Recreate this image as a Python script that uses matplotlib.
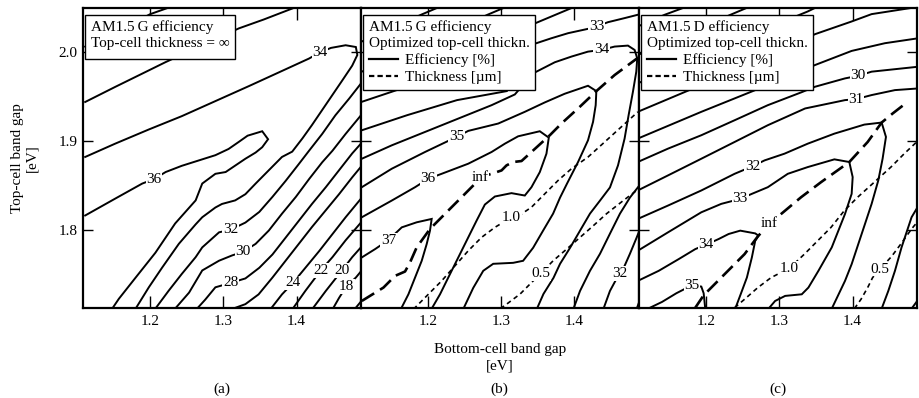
import matplotlib
matplotlib.use('Agg')
from matplotlib import pyplot as plt
from matplotlib.lines import Line2D

plt.rcParams['font.family'] = ['Liberation Serif', 'DejaVu Serif']
plt.rcParams['font.size'] = 11

X_RANGE = (1.108, 1.488)
Y_RANGE = (1.712, 2.050)
X_TICKS = [1.2, 1.3, 1.4]
Y_TICKS = [1.8, 1.9, 2.0]

# ---------------- (a) AM1.5G, infinite top cell: efficiency contours ----------------
a30_x = [1.111, 1.152, 1.200, 1.226]
a30_y = [2.0065, 2.0227, 2.0431, 2.0507]
a32u_x = [1.111, 1.152, 1.189, 1.221, 1.271, 1.321, 1.355, 1.399]
a32u_y = [1.944, 1.961, 1.976, 1.989, 2.008, 2.027, 2.037, 2.051]
a34_x = [1.111, 1.152, 1.198, 1.243, 1.289, 1.335, 1.380, 1.417, 1.432, 1.447, 1.467, 1.481, 1.483,
         1.476, 1.463, 1.449, 1.435, 1.421, 1.408, 1.394, 1.380, 1.362, 1.344, 1.330, 1.316, 1.298,
         1.289, 1.271, 1.262, 1.239, 1.216, 1.198, 1.180]
a34_y = [1.882, 1.897, 1.913, 1.928, 1.945, 1.962, 1.979, 1.993, 2.000, 2.005, 2.008, 2.006, 1.997,
         1.985, 1.969, 1.952, 1.935, 1.918, 1.903, 1.888, 1.882, 1.867, 1.852, 1.840, 1.833, 1.829,
         1.825, 1.814, 1.806, 1.784, 1.757, 1.735, 1.711]
a36_x = [1.111, 1.152, 1.189, 1.205, 1.221, 1.243, 1.266, 1.289, 1.307, 1.321, 1.333, 1.353, 1.361,
         1.353, 1.344, 1.330, 1.312, 1.303, 1.289, 1.271, 1.262, 1.234, 1.207, 1.180, 1.157, 1.148]
a36_y = [1.816, 1.835, 1.852, 1.857, 1.865, 1.872, 1.878, 1.884, 1.891, 1.899, 1.906, 1.911, 1.902,
         1.893, 1.887, 1.880, 1.870, 1.865, 1.863, 1.852, 1.833, 1.807, 1.774, 1.746, 1.722, 1.711]
a32_x = [1.207, 1.225, 1.243, 1.262, 1.271, 1.294, 1.310, 1.330, 1.349, 1.367, 1.385, 1.403, 1.417,
         1.435, 1.453, 1.472, 1.490]
a32_y = [1.711, 1.731, 1.750, 1.769, 1.780, 1.797, 1.800, 1.808, 1.820, 1.837, 1.855, 1.874, 1.889,
         1.908, 1.929, 1.948, 1.967]
a30l_x = [1.234, 1.253, 1.271, 1.294, 1.312, 1.327, 1.344, 1.362, 1.380, 1.399, 1.417, 1.435, 1.449, 1.467, 1.490]
a30l_y = [1.711, 1.729, 1.754, 1.765, 1.771, 1.775, 1.784, 1.799, 1.818, 1.837, 1.857, 1.876, 1.889, 1.908, 1.931]
a28_x = [1.264, 1.275, 1.289, 1.310, 1.330, 1.349, 1.367, 1.385, 1.403, 1.421, 1.440, 1.458, 1.476, 1.490]
a28_y = [1.711, 1.721, 1.735, 1.740, 1.745, 1.757, 1.772, 1.791, 1.810, 1.829, 1.848, 1.867, 1.886, 1.899]
a26_x = [1.310, 1.330, 1.348, 1.367, 1.385, 1.403, 1.421, 1.440, 1.458, 1.476, 1.490]
a26_y = [1.710, 1.716, 1.727, 1.746, 1.765, 1.784, 1.803, 1.822, 1.840, 1.859, 1.873]
a24_x = [1.364, 1.380, 1.395, 1.412, 1.431, 1.449, 1.467, 1.490]
a24_y = [1.710, 1.727, 1.740, 1.757, 1.776, 1.795, 1.814, 1.837]
a22_x = [1.394, 1.412, 1.433, 1.449, 1.467, 1.490]
a22_y = [1.710, 1.731, 1.754, 1.769, 1.788, 1.810]
a20_x = [1.421, 1.440, 1.462, 1.476, 1.490]
a20_y = [1.710, 1.731, 1.754, 1.769, 1.782]
a18_x = [1.449, 1.458, 1.468, 1.481, 1.490]
a18_y = [1.710, 1.723, 1.736, 1.746, 1.755]
a16_x = [1.479, 1.490]
a16_y = [1.710, 1.721]

a_lab_text = ['34', '36', '32', '30', '28', '24', '22', '20', '18']
a_lab_x = [1.432, 1.205, 1.310, 1.327, 1.310, 1.395, 1.433, 1.462, 1.468]
a_lab_y = [2.000, 1.857, 1.800, 1.775, 1.740, 1.740, 1.754, 1.754, 1.736]

# ---------------- (b) AM1.5G, optimized top-cell thickness ----------------
b30_x = [1.1095, 1.1905, 1.2141]
b30_y = [2.0122, 2.0424, 2.0507]
b31_x = [1.1095, 1.2814, 1.3051]
b31_y = [1.9782, 2.0424, 2.0507]
b32u_x = [1.1095, 1.1641, 1.2414, 1.3437, 1.3960]
b32u_y = [1.9442, 1.9593, 1.9857, 2.0318, 2.0499]
b33_x = [1.1095, 1.1714, 1.2396, 1.3078, 1.3437, 1.3687, 1.3915, 1.4187, 1.4301, 1.4460, 1.4687, 1.4869]
b33_y = [1.9121, 1.9291, 1.9461, 1.9563, 2.0091, 2.0159, 2.0216, 2.0265, 2.0291, 2.0340, 2.0386, 2.0424]
b34_x = [1.1095, 1.1504, 1.1959, 1.2414, 1.2869, 1.3187, 1.3437, 1.3733, 1.3960, 1.4187, 1.4369, 1.4551,
         1.4733, 1.4824, 1.4860, 1.4847, 1.4801, 1.4742, 1.4687, 1.4597, 1.4487, 1.4351, 1.4214, 1.4078,
         1.3942, 1.3805, 1.3715, 1.3578, 1.3487]
b34_y = [1.8800, 1.8951, 1.9102, 1.9253, 1.9404, 1.9525, 1.9763, 1.9888, 1.9952, 2.0008, 2.0027, 2.0065,
         2.0076, 2.0027, 1.9933, 1.9782, 1.9555, 1.9291, 1.9027, 1.8725, 1.8476, 1.8328, 1.8181, 1.7989,
         1.7796, 1.7615, 1.7456, 1.7275, 1.7105]
b35_x = [1.1095, 1.1504, 1.1959, 1.2391, 1.2550, 1.2960, 1.3323, 1.3596, 1.3869, 1.4187, 1.4301, 1.4292,
         1.4256, 1.4187, 1.4051, 1.3901, 1.3805, 1.3710, 1.3573, 1.3437, 1.3300, 1.3164, 1.2891, 1.2755,
         1.2618, 1.2482]
b35_y = [1.8479, 1.8687, 1.8876, 1.9046, 1.9114, 1.9197, 1.9329, 1.9435, 1.9533, 1.9623, 1.9563, 1.9404,
         1.9216, 1.9008, 1.8763, 1.8521, 1.8362, 1.8181, 1.7989, 1.7796, 1.7649, 1.7626, 1.7615, 1.7536,
         1.7343, 1.7105]
b36_x = [1.1095, 1.1504, 1.1823, 1.2004, 1.2186, 1.2550, 1.2869, 1.3051, 1.3232, 1.3528, 1.3651, 1.3619,
         1.3528, 1.3414, 1.3323, 1.3141, 1.2914, 1.2777, 1.2664, 1.2550, 1.2414, 1.2277, 1.2164, 1.2050]
b36_y = [1.8140, 1.8328, 1.8479, 1.8574, 1.8630, 1.8744, 1.8876, 1.8970, 1.9053, 1.9110, 1.9038, 1.8857,
         1.8649, 1.8479, 1.8385, 1.8412, 1.8374, 1.8283, 1.8102, 1.7913, 1.7687, 1.7460, 1.7271, 1.7109]
b37_x = [1.1095, 1.1277, 1.1459, 1.1641, 1.1845, 1.2050, 1.2027, 1.1982, 1.1914, 1.1823, 1.1732, 1.1632]
b37_y = [1.7687, 1.7781, 1.7883, 1.8026, 1.8083, 1.8121, 1.7989, 1.7838, 1.7649, 1.7460, 1.7271, 1.7109]
b33l_x = [1.3987, 1.4078, 1.4214, 1.4351, 1.4487, 1.4624, 1.4760, 1.4900]
b33l_y = [1.7105, 1.7309, 1.7536, 1.7728, 1.7955, 1.8181, 1.8362, 1.8510]
b32l_x = [1.4397, 1.4487, 1.4583, 1.4669, 1.4760, 1.4851, 1.4900]
b32l_y = [1.7105, 1.7309, 1.7456, 1.7558, 1.7728, 1.7909, 1.8010]
b31l_x = [1.4851, 1.4900]
b31l_y = [1.7105, 1.7215]
# thickness contours [um]
b_inf_x = [1.1095, 1.1391, 1.1550, 1.1686, 1.1754, 1.1845, 1.2027, 1.2186, 1.2368, 1.2505, 1.2641, 1.2709,
           1.2869, 1.3005, 1.3073, 1.3164, 1.3278, 1.3414, 1.3665, 1.3824, 1.4074, 1.4301, 1.4551, 1.4860]
b_inf_y = [1.7196, 1.7347, 1.7479, 1.7528, 1.7630, 1.7800, 1.8008, 1.8140, 1.8291, 1.8404, 1.8517, 1.8593,
           1.8630, 1.8668, 1.8725, 1.8763, 1.8774, 1.8876, 1.9065, 1.9197, 1.9385, 1.9563, 1.9744, 1.9933]
b10_x = [1.1800, 1.2004, 1.2186, 1.2368, 1.2550, 1.2732, 1.2914, 1.3141, 1.3278, 1.3414, 1.3596, 1.3778,
         1.3960, 1.4187, 1.4415, 1.4642, 1.4869]
b10_y = [1.7102, 1.7271, 1.7422, 1.7592, 1.7762, 1.7913, 1.8026, 1.8140, 1.8177, 1.8253, 1.8404, 1.8555,
         1.8687, 1.8819, 1.8989, 1.9159, 1.9329]
b05_x = [1.2987, 1.3078, 1.3260, 1.3396, 1.3541, 1.3710, 1.3901, 1.4078, 1.4260, 1.4442, 1.4669, 1.4869]
b05_y = [1.7109, 1.7162, 1.7275, 1.7388, 1.7506, 1.7649, 1.7785, 1.7913, 1.8045, 1.8181, 1.8328, 1.8453]

b_lab_text = ['33', '34', '35', '36', '37', '32', 'inf', '1.0', '0.5']
b_lab_x = [1.4301, 1.4369, 1.2391, 1.2004, 1.1459, 1.4626, 1.2709, 1.3141, 1.3541]
b_lab_y = [2.0291, 2.0027, 1.9046, 1.8574, 1.7883, 1.7507, 1.8593, 1.8140, 1.7506]

# ---------------- (c) AM1.5D, optimized top-cell thickness ----------------
c25_x = [1.1063, 1.1432, 1.1704]
c25_y = [2.0291, 2.0424, 2.0507]
c26_x = [1.1063, 1.2332, 1.2569]
c26_y = [1.9970, 2.0424, 2.0507]
c27_x = [1.1063, 1.2387, 1.3387, 1.3501]
c27_y = [1.9650, 2.0122, 2.0461, 2.0507]
c28_x = [1.1063, 1.1932, 1.2841, 1.3487, 1.3987, 1.4260, 1.4851]
c28_y = [1.9329, 1.9631, 1.9952, 2.0205, 2.0348, 2.0431, 2.0507]
c29_x = [1.1063, 1.1932, 1.2841, 1.3487, 1.3987, 1.4442, 1.4900]
c29_y = [1.9027, 1.9329, 1.9631, 1.9857, 2.0016, 2.0103, 2.0159]
c30_x = [1.1063, 1.1477, 1.1932, 1.2387, 1.2841, 1.3296, 1.3487, 1.3896, 1.4078, 1.4260, 1.4900]
c30_y = [1.8763, 1.8914, 1.9065, 1.9234, 1.9404, 1.9548, 1.9612, 1.9706, 1.9736, 1.9782, 1.9838]
c31_x = [1.1063, 1.1477, 1.1932, 1.2387, 1.2841, 1.3351, 1.3896, 1.4046, 1.4260, 1.4579, 1.4900]
c31_y = [1.8442, 1.8612, 1.8800, 1.8989, 1.9178, 1.9367, 1.9461, 1.9472, 1.9518, 1.9574, 1.9593]
c32_x = [1.1063, 1.1477, 1.1932, 1.2387, 1.2637, 1.2796, 1.3069, 1.3387, 1.3751, 1.4160, 1.4397, 1.4456,
         1.4410, 1.4351, 1.4260, 1.4169, 1.4078, 1.3987, 1.3896, 1.3715]
c32_y = [1.8121, 1.8272, 1.8442, 1.8630, 1.8717, 1.8781, 1.8857, 1.8970, 1.9083, 1.9185, 1.9208, 1.9046,
         1.8800, 1.8555, 1.8291, 1.8064, 1.7838, 1.7611, 1.7422, 1.7109]
c33_x = [1.1063, 1.1477, 1.1932, 1.2205, 1.2464, 1.2623, 1.2841, 1.3114, 1.3387, 1.3751, 1.3955, 1.4001,
         1.3987, 1.3896, 1.3715, 1.3533, 1.3396, 1.3305, 1.3078, 1.2941, 1.2851]
c33_y = [1.7762, 1.7970, 1.8196, 1.8291, 1.8347, 1.8404, 1.8479, 1.8630, 1.8706, 1.8793, 1.8763, 1.8593,
         1.8404, 1.8177, 1.7800, 1.7536, 1.7347, 1.7271, 1.7253, 1.7196, 1.7109]
c34_x = [1.1063, 1.1350, 1.1623, 1.1850, 1.1995, 1.2168, 1.2305, 1.2464, 1.2669, 1.2714, 1.2669, 1.2623,
         1.2555, 1.2487, 1.2396]
c34_y = [1.7422, 1.7536, 1.7668, 1.7781, 1.7830, 1.7894, 1.7951, 1.7989, 1.7958, 1.7932, 1.7875, 1.7687,
         1.7460, 1.7309, 1.7109]
c35_x = [1.1204, 1.1395, 1.1591, 1.1804, 1.1932, 1.1964, 1.1986]
c35_y = [1.7109, 1.7185, 1.7283, 1.7373, 1.7358, 1.7283, 1.7109]
c31l_x = [1.4397, 1.4488, 1.4579, 1.4669, 1.4806, 1.4900]
c31l_y = [1.7109, 1.7309, 1.7536, 1.7800, 1.8140, 1.8270]
c30l_x = [1.4806, 1.4900]
c30l_y = [1.7109, 1.7215]
c_inf_x = [1.1841, 1.1964, 1.2159, 1.2341, 1.2523, 1.2705, 1.2864, 1.3023, 1.3296, 1.3569, 1.3955, 1.4206,
           1.4397, 1.4547, 1.4706]
c_inf_y = [1.7109, 1.7260, 1.7422, 1.7573, 1.7724, 1.7925, 1.8064, 1.8177, 1.8366, 1.8536, 1.8763, 1.8989,
           1.9208, 1.9310, 1.9412]
c10_x = [1.2387, 1.2523, 1.2705, 1.2887, 1.3137, 1.3341, 1.3523, 1.3705, 1.3887, 1.4069, 1.4297, 1.4524,
         1.4706, 1.4900]
c10_y = [1.7120, 1.7215, 1.7347, 1.7460, 1.7566, 1.7724, 1.7875, 1.8026, 1.8215, 1.8366, 1.8536, 1.8706,
         1.8857, 1.9008]
c05_x = [1.4024, 1.4115, 1.4206, 1.4274, 1.4374, 1.4533, 1.4669, 1.4806, 1.4900]
c05_y = [1.7109, 1.7215, 1.7347, 1.7460, 1.7555, 1.7698, 1.7849, 1.8008, 1.8102]

c_lab_text = ['30', '31', '32', '33', 'inf', '34', '35', '1.0', '0.5']
c_lab_x = [1.4078, 1.4046, 1.2637, 1.2464, 1.2864, 1.1995, 1.1804, 1.3137, 1.4374]
c_lab_y = [1.9736, 1.9472, 1.8717, 1.8347, 1.8064, 1.7830, 1.7373, 1.7566, 1.7555]

EFF = dict(color='black', lw=1.4, solid_joinstyle='miter')
INF = dict(color='black', lw=1.9, dashes=(5.5, 2.6))
THK = dict(color='black', lw=1.2, dashes=(2.8, 2.2))

panel_a = [(a30_x, a30_y, EFF), (a32u_x, a32u_y, EFF), (a34_x, a34_y, EFF), (a36_x, a36_y, EFF),
           (a32_x, a32_y, EFF), (a30l_x, a30l_y, EFF), (a28_x, a28_y, EFF), (a26_x, a26_y, EFF),
           (a24_x, a24_y, EFF), (a22_x, a22_y, EFF), (a20_x, a20_y, EFF), (a18_x, a18_y, EFF),
           (a16_x, a16_y, EFF)]
panel_b = [(b30_x, b30_y, EFF), (b31_x, b31_y, EFF), (b32u_x, b32u_y, EFF), (b33_x, b33_y, EFF),
           (b34_x, b34_y, EFF), (b35_x, b35_y, EFF), (b36_x, b36_y, EFF), (b37_x, b37_y, EFF),
           (b33l_x, b33l_y, EFF), (b32l_x, b32l_y, EFF), (b31l_x, b31l_y, EFF),
           (b_inf_x, b_inf_y, INF), (b10_x, b10_y, THK), (b05_x, b05_y, THK)]
panel_c = [(c25_x, c25_y, EFF), (c26_x, c26_y, EFF), (c27_x, c27_y, EFF), (c28_x, c28_y, EFF),
           (c29_x, c29_y, EFF), (c30_x, c30_y, EFF), (c31_x, c31_y, EFF), (c32_x, c32_y, EFF),
           (c33_x, c33_y, EFF), (c34_x, c34_y, EFF), (c35_x, c35_y, EFF), (c31l_x, c31l_y, EFF),
           (c30l_x, c30l_y, EFF), (c_inf_x, c_inf_y, INF), (c10_x, c10_y, THK), (c05_x, c05_y, THK)]


def setup_axes(ax, show_ylabels):
    ax.set_xlim(*X_RANGE)
    ax.set_ylim(*Y_RANGE)
    ax.set_xticks(X_TICKS)
    ax.set_yticks(Y_TICKS)
    ax.tick_params(axis='both', direction='in', top=True, right=True, width=1.0, labelsize=11)
    ax.tick_params(axis='x', length=8.5, pad=5)
    ax.tick_params(axis='y', length=7, pad=4, labelleft=show_ylabels)
    for s in ax.spines.values():
        s.set_linewidth(1.6)


def draw_panel(ax, lines, lab_text, lab_x, lab_y):
    for x, y, style in lines:
        ax.plot(x, y, **style)
    for t, x, y in zip(lab_text, lab_x, lab_y):
        ax.text(x, y, t, ha='center', va='center', fontsize=11, zorder=3,
                bbox=dict(fc='white', ec='none', pad=0.6))


def add_box(ax, title, with_keys):
    if with_keys:
        handles = [Line2D([], [], color='black', lw=1.6, ls='-'),
                   Line2D([], [], color='black', lw=1.6, ls=(0, (2.4, 1.4)))]
        labels = ['Efficiency [%]', 'Thickness [\u00b5m]']
    else:
        handles, labels = [], []
    leg = ax.legend(handles, labels, title=title, loc='upper left', bbox_to_anchor=(0.009, 0.977),
                    borderaxespad=0, fancybox=False, edgecolor='black', framealpha=1,
                    fontsize=11, title_fontsize=11, alignment='left', handlelength=1.9,
                    handletextpad=0.5, labelspacing=0.22, borderpad=0.35)
    leg.get_title().set_linespacing(1.3)
    leg.get_frame().set_linewidth(1.0)
    leg.set_zorder(5)


fig = plt.figure(figsize=(9.19, 3.98), dpi=100)
w = 0.3025
ax_a = fig.add_axes([0.0903, 0.2269, w, 0.7530])
ax_b = fig.add_axes([0.3925, 0.2269, w, 0.7530])
ax_c = fig.add_axes([0.6953, 0.2269, w, 0.7530])

setup_axes(ax_a, True)
setup_axes(ax_b, False)
setup_axes(ax_c, False)

draw_panel(ax_a, panel_a, a_lab_text, a_lab_x, a_lab_y)
draw_panel(ax_b, panel_b, b_lab_text, b_lab_x, b_lab_y)
draw_panel(ax_c, panel_c, c_lab_text, c_lab_x, c_lab_y)

add_box(ax_a, 'AM1.5\u2009G efficiency\nTop-cell thickness = \u221e', False)
add_box(ax_b, 'AM1.5\u2009G efficiency\nOptimized top-cell thickn.', True)
add_box(ax_c, 'AM1.5\u2009D efficiency\nOptimized top-cell thickn.', True)

fig.text(25 / 919, 1 - 158 / 398, 'Top-cell band gap\n[eV]', rotation=90, ha='center', va='center',
         multialignment='center', fontsize=11, linespacing=1.1)
fig.text(500 / 919, 1 - 358 / 398, 'Bottom-cell band gap\n[eV]', ha='center', va='center',
         multialignment='center', fontsize=11, linespacing=1.35)
for ax, tag in [(ax_a, '(a)'), (ax_b, '(b)'), (ax_c, '(c)')]:
    pos = ax.get_position()
    fig.text(pos.x0 + pos.width / 2, 1 - 389 / 398, tag, ha='center', va='center', fontsize=11)

fig.savefig('out.png', dpi=100)
